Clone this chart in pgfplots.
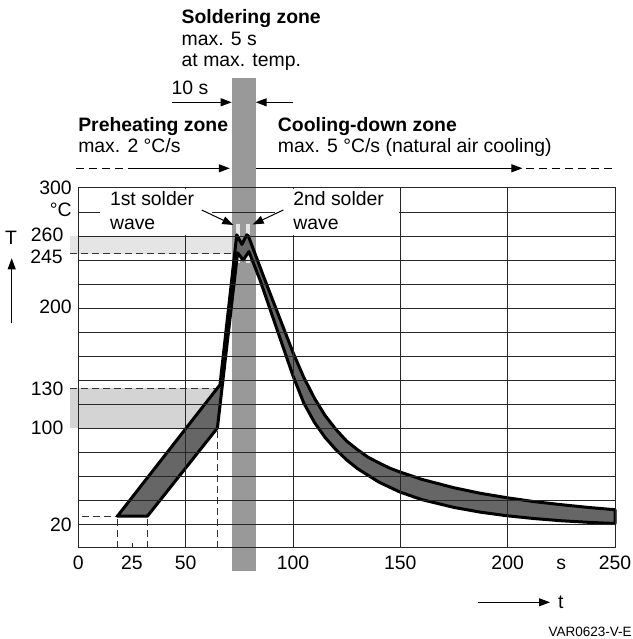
\documentclass[border=0pt]{standalone}
\usepackage{pgfplots}
\pgfplotsset{compat=1.18}
\usepackage{fontspec}
\setmainfont{Liberation Sans}
\usetikzlibrary{arrows.meta}
\definecolor{bandc}{gray}{0.6}
\definecolor{darkc}{gray}{0.4}
\definecolor{lightA}{gray}{0.9}
\definecolor{lightB}{gray}{0.83}
\definecolor{stripc}{gray}{0.9}
\begin{document}
\fontsize{19.4bp}{22bp}\selectfont
\begin{tikzpicture}[x=1bp,y=1bp,
  every node/.style={inner sep=0pt, outer sep=0pt},
  arr/.style={line width=1bp, -{Triangle[length=11bp,width=8bp]}},
  dsh/.style={line width=1bp, black!80, dash pattern=on 7bp off 4bp}]
\useasboundingbox (0,0) rectangle (633,639);
\begin{axis}[
  at={(78.3bp,91bp)}, anchor=south west,
  scale only axis, width=536.7bp, height=360bp,
  xmin=0, xmax=250, ymin=0, ymax=300,
  clip=false, axis on top,
  xtick={50,100,150,200}, ytick={20,40,...,280},
  xticklabels={}, yticklabels={},
  xtick pos=bottom, ytick pos=left,
  major tick length=0pt,
  extra x ticks={25}, extra x tick labels={},
  extra x tick style={grid=none, major tick length=5bp},
  grid=major,
  grid style={line width=0.9bp, black!85},
  axis line style={line width=1bp, black!85},
  tick style={line width=0.9bp, black!85},
]
% background bands
\addplot[fill=lightA, draw=none] coordinates {(-3.8,245) (71.5,245) (71.5,260) (-3.8,260)} -- cycle;
\addplot[fill=lightB, draw=none] coordinates {(-3.8,100) (64.8,100) (64.8,133) (-3.8,133)} -- cycle;
% soldering zone band
\addplot[fill=bandc, draw=none] coordinates {(71.5,-18.9) (82.6,-18.9) (82.6,391.4) (71.5,391.4)} -- cycle;
% wave strips
\addplot[fill=stripc, draw=none] coordinates {(73.5,237.5) (75.5,237.5) (75.5,270) (73.5,270)} -- cycle;
\addplot[fill=stripc, draw=none] coordinates {(78.0,237.5) (80.0,237.5) (80.0,270) (78.0,270)} -- cycle;
% dashed guide lines
\addplot[dsh] coordinates {(-3.8,245) (71.5,245)};
\addplot[dsh] coordinates {(-3.8,133) (63.7,133)};
\addplot[dsh] coordinates {(1.5,26.5) (18.2,26.5)};
\addplot[dsh] coordinates {(18.2,0) (18.2,26.5)};
\addplot[dsh] coordinates {(32.2,0) (32.2,26.5)};
\addplot[dsh] coordinates {(64.8,0) (64.8,100)};
% temperature profile band (upper profile, then lower profile backwards)
\addplot[fill=darkc, draw=black, line width=3bp, line join=round] coordinates {
 (18.2,26.5) (66,136) (73.8,261) (76.2,253) (78.5,261) (79.2,260) (87,223)
 (100,163) (105,142.3) (110,124.8) (115,110.3) (120,98.8) (125,89.1) (130,82.0)
 (135,75.6) (140,71.0) (145,66.6) (150,63.2) (160,57.2) (175,50.2) (187.5,45.5)
 (200,41.8) (212.5,38.6) (225,36.1) (237.5,33.8) (250,31.9)
 (250,20.4) (237.5,21.4) (225,22.7) (212.5,24.5) (200,26.8) (187.5,29.8)
 (175,33.8) (160,40.3) (150,46.5) (140,54.9) (130,66.2) (125,73.4) (120,81.9)
 (115,92.0) (110,104.6) (105,120.9) (100,143.5) (84.7,223) (79.5,247)
 (76.8,240) (74.2,246) (64.8,100) (32.2,26.5)} -- cycle;
% tick labels
\node[anchor=base east, xshift=-6.6bp, yshift=-6.3bp] at (axis cs:0,300) {300};
\node[anchor=base east, xshift=-15bp, yshift=-5.7bp] at (axis cs:0,260) {260};
\node[anchor=base east, xshift=-15.6bp, yshift=-9.3bp] at (axis cs:0,245) {245};
\node[anchor=base east, xshift=-6.6bp, yshift=-6bp] at (axis cs:0,200) {200};
\node[anchor=base east, xshift=-15bp, yshift=-6.7bp] at (axis cs:0,133) {130};
\node[anchor=base east, xshift=-15bp, yshift=-7bp] at (axis cs:0,100) {100};
\node[anchor=base east, xshift=-6.6bp, yshift=-7.7bp] at (axis cs:0,20) {20};
\node[anchor=base, yshift=-21.3bp] at (axis cs:0,0) {0};
\node[anchor=base, yshift=-21.3bp] at (axis cs:25,0) {25};
\node[anchor=base, yshift=-21.3bp] at (axis cs:50,0) {50};
\node[anchor=base, yshift=-21.3bp] at (axis cs:100,0) {100};
\node[anchor=base, yshift=-21.3bp] at (axis cs:150,0) {150};
\node[anchor=base, yshift=-21.3bp] at (axis cs:200,0) {200};
\node[anchor=base, yshift=-21.3bp] at (axis cs:224.9,0) {s};
\node[anchor=base, yshift=-21.3bp] at (axis cs:250,0) {250};
\end{axis}
\node[anchor=base east] at (71.7,422.3) {°C};
% white boxes behind the wave labels
\fill[white] (100,404.4) rectangle (211.5,449.8);
\fill[white] (274.5,404.4) rectangle (399.3,449.8);
\node[anchor=base west] at (110,433) {1st solder};
\node[anchor=base west] at (110,409.5) {wave};
\node[anchor=base west] at (293.3,433) {2nd solder};
\node[anchor=base west] at (293.3,409.5) {wave};
\draw[arr] (201.7,429) -- (233.3,414);
\draw[arr] (283.3,429) -- (252.7,414.5);
% top annotations
\node[anchor=base west, font=\bfseries] at (181.7,615) {Soldering zone};
\node[anchor=base west] at (181.7,593.3) {max. 5 s};
\node[anchor=base west] at (181.7,572.3) {at max. temp.};
\node[anchor=base west] at (171.7,544) {10 s};
\draw[arr] (171.7,536.7) -- (231.7,536.7);
\draw[arr] (293.3,536.7) -- (255.7,536.7);
\node[anchor=base west, font=\bfseries] at (78.3,507.3) {Preheating zone};
\node[anchor=base west] at (78.3,486.3) {max. 2 °C/s};
\node[anchor=base west, font=\bfseries] at (277.9,507.3) {Cooling-down zone};
\node[anchor=base west] at (277.9,486.3) {max. 5 °C/s (natural air cooling)};
\draw[line width=1bp, dash pattern=on 8bp off 5bp] (76.1,470.7) -- (129.8,470.7);
\draw[arr] (129.8,470.7) -- (229.8,470.7);
\draw[arr] (255.8,470.7) -- (522.4,470.7);
\draw[line width=1bp, dash pattern=on 8bp off 5bp] (526,470.7) -- (615,470.7);
% axis arrows
\node[anchor=base west] at (5,394) {T};
\draw[arr] (11.7,315.7) -- (11.7,380.7);
\draw[arr] (478.3,36.7) -- (550,36.7);
\node[anchor=base west] at (558,30.7) {t};
\node[anchor=base east, font=\fontsize{13.5bp}{16bp}\selectfont] at (631.7,2.3) {VAR0623-V-E};
\end{tikzpicture}
\end{document}
